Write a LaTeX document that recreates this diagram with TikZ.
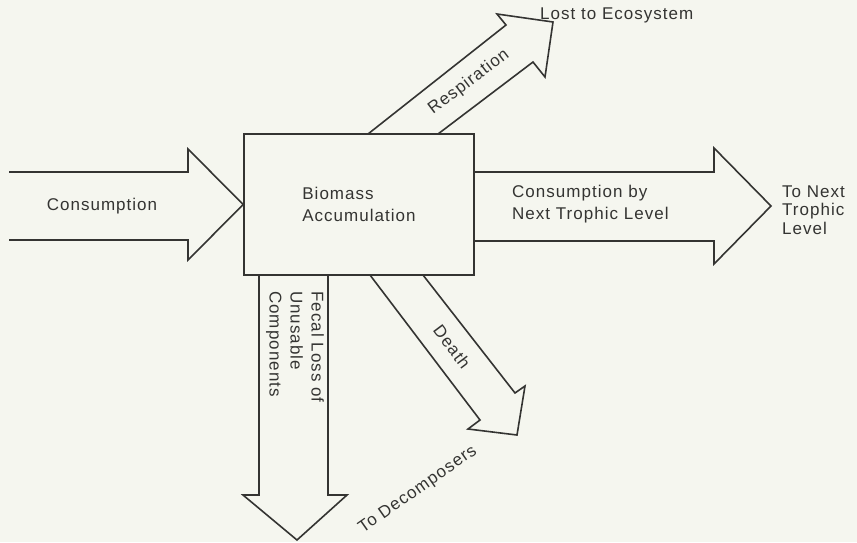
\documentclass[tikz,border=0pt]{standalone}
\usepackage{fontspec}
\setmainfont[LetterSpace=6]{Liberation Sans}
\definecolor{bg}{RGB}{245,246,239}
\definecolor{ink}{RGB}{52,52,50}
\begin{document}
\begin{tikzpicture}[x=1pt,y=-1pt,
  flow/.style={draw=ink,line width=1.6pt,line join=miter},
  lbl/.style={text=ink,inner sep=0pt,font=\fontsize{17}{22}\selectfont},
  boxstyle/.style={draw=ink,line width=1.6pt,minimum width=230pt,minimum height=141pt,inner sep=0pt,align=left,text=ink,font=\fontsize{17}{22}\selectfont}]
\fill[bg] (0,0) rectangle (857,542);
\useasboundingbox (0,0) rectangle (857,542);
% central box
\node[boxstyle] (box) at (359,204.5) {Biomass\\Accumulation};
% consumption (in)
\draw[flow] (9,172) -- (188,172) -- (188,149) -- (box.west) -- (188,260) -- (188,240) -- (9,240);
% consumption by next trophic level (out)
\draw[flow] (box.east |- 0,172) -- (714,172) -- (714,148) -- (771,206) -- (714,264) -- (714,241) -- (box.east |- 0,241);
% respiration
\draw[flow] (368,134) -- (506,25) -- (497,14) -- (553,22) -- (545,77) -- (533,62) -- (438,134);
% fecal loss
\draw[flow] (259,275) -- (259,495) -- (243,495) -- (297,540) -- (347,495) -- (328,495) -- (328,275);
% death
\draw[flow] (370,275) -- (480,420) -- (468,429) -- (517,435) -- (525,386) -- (515,393) -- (423,275);
% labels
\node[lbl,anchor=west] (lost) at (540,15) {Lost to Ecosystem};
\node[lbl,rotate=37] (resp) at (469,82) {Respiration};
\node[lbl] (cons) at (102,206) {Consumption};
\node[lbl,anchor=west,align=left] (consby) at (512,204) {Consumption by\\Next Trophic Level};
\node[lbl,anchor=west,align=left,font=\fontsize{17}{18.5}\selectfont] (tonext) at (782,210) {To Next\\Trophic\\Level};
\node[lbl,anchor=west,align=left,rotate=-90,font=\fontsize{17}{21}\selectfont] (fecal) at (295,291) {Fecal Loss of\\Unusable\\Components};
\node[lbl,rotate=-53] (death) at (452,347) {Death};
\node[lbl,rotate=35] (todec) at (418,490) {To Decomposers};
\end{tikzpicture}
\end{document}
